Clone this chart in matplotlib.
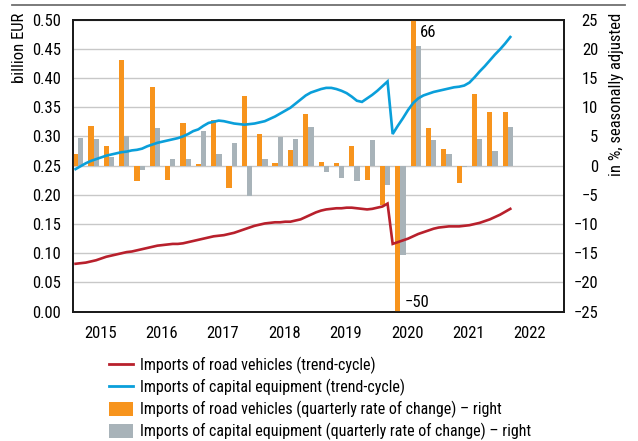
import matplotlib
matplotlib.use("Agg")
import matplotlib.pyplot as plt
from matplotlib import font_manager
from matplotlib.lines import Line2D
from matplotlib.patches import Patch
import numpy as np

# ---- font selection: prefer a narrow sans (reference uses a condensed Helvetica) ----
def _is_narrow(f):
    st = f.stretch
    if isinstance(st, str):
        narrow = st in ("condensed", "semi-condensed", "extra-condensed", "ultra-condensed")
    else:
        narrow = st < 500
    return narrow or "Narrow" in f.name or "Condensed" in f.name

def _is_regular(f):
    w = f.weight
    w = {"normal": 400, "regular": 400, "book": 400}.get(w, w) if isinstance(w, str) else w
    return w == 400 and f.style == "normal"

cands = [f for f in font_manager.fontManager.ttflist if _is_narrow(f) and _is_regular(f)]
pref = ["Liberation Sans Narrow", "Arial Narrow", "Roboto Condensed", "Open Sans Condensed",
        "Noto Sans", "Noto Sans Condensed", "DejaVu Sans", "Open Sans", "Roboto"]
chosen = None
for p in pref:
    for f in cands:
        if f.name == p:
            chosen = f
            break
    if chosen:
        break
if chosen is None and cands:
    chosen = cands[0]

if chosen is not None:
    FP = dict(fname=chosen.fname)
    FS, LFS = 12, 11.5
else:
    FP = dict(family="Liberation Sans")
    FS, LFS = 10.5, 10

def fp(size):
    return font_manager.FontProperties(size=size, **FP)

# ---------------- data ----------------
years = [2015, 2016, 2017, 2018, 2019, 2020, 2021, 2022]

# monthly trend-cycle (billion EUR), Jan 2015 .. Feb 2022
road_trend = [
    0.082, 0.083, 0.084, 0.086, 0.088, 0.091, 0.094, 0.096, 0.098, 0.100, 0.102, 0.103,
    0.105, 0.107, 0.109, 0.111, 0.113, 0.114, 0.115, 0.116, 0.116, 0.117, 0.119, 0.121,
    0.123, 0.125, 0.127, 0.129, 0.130, 0.131, 0.133, 0.135, 0.138, 0.141, 0.144, 0.147,
    0.149, 0.151, 0.152, 0.153, 0.153, 0.154, 0.154, 0.156, 0.158, 0.162, 0.166, 0.170,
    0.173, 0.175, 0.176, 0.177, 0.177, 0.178, 0.178, 0.177, 0.176, 0.175, 0.176, 0.178,
    0.180, 0.185, 0.116, 0.119, 0.122, 0.125, 0.129, 0.133, 0.136, 0.139, 0.142, 0.144,
    0.145, 0.146, 0.146, 0.146, 0.147, 0.148, 0.150, 0.152, 0.155, 0.158, 0.162, 0.166,
    0.171, 0.176,
]
capital_trend = [
    0.244, 0.249, 0.254, 0.258, 0.261, 0.264, 0.267, 0.269, 0.271, 0.273, 0.274, 0.276,
    0.277, 0.279, 0.283, 0.286, 0.289, 0.291, 0.293, 0.295, 0.297, 0.300, 0.304, 0.309,
    0.312, 0.318, 0.323, 0.325, 0.327, 0.326, 0.324, 0.322, 0.321, 0.320, 0.321, 0.322,
    0.324, 0.326, 0.330, 0.334, 0.339, 0.344, 0.349, 0.356, 0.363, 0.370, 0.375, 0.378,
    0.381, 0.383, 0.383, 0.381, 0.378, 0.374, 0.368, 0.361, 0.359, 0.365, 0.371, 0.378,
    0.386, 0.394, 0.304, 0.318, 0.331, 0.345, 0.357, 0.365, 0.370, 0.373, 0.376, 0.378,
    0.380, 0.382, 0.384, 0.385, 0.387, 0.392, 0.401, 0.411, 0.420, 0.430, 0.440, 0.449,
    0.459, 0.470,
]

# quarterly rates of change (%), 2015Q1 .. 2022Q1
road_qoq = [2.0, 6.8, 3.4, 18.0, -2.6, 13.4, -2.5, 7.3, 0.2, 7.8, -3.8, 11.9, 5.4, 0.4,
            2.6, 8.9, 0.6, 0.5, 3.4, -2.4, -6.8, -50.0, 66.0, 6.4, 2.8, -2.9, 12.2, 9.2, 9.2]
capital_qoq = [4.8, 4.5, 1.5, 5.1, -0.8, 6.5, 1.1, 1.2, 6.0, 2.0, 3.9, -5.2, 1.1, 4.9,
               4.6, 6.6, -1.1, -2.1, -2.6, 4.4, -3.4, -15.3, 20.5, 4.3, 1.9, -0.3, 4.6, 2.5, 6.6]

left_ticks = [0.00, 0.05, 0.10, 0.15, 0.20, 0.25, 0.30, 0.35, 0.40, 0.45, 0.50]
right_ticks = [-25, -20, -15, -10, -5, 0, 5, 10, 15, 20, 25]

labels = [
    "Imports of road vehicles (trend-cycle)",
    "Imports of capital equipment (trend-cycle)",
    "Imports of road vehicles (quarterly rate of change) \u2013 right",
    "Imports of capital equipment (quarterly rate of change) \u2013 right",
]

RED = "#B8202C"
BLUE = "#0A9FDA"
ORANGE = "#F7941D"
GREY = "#A8B3B9"

# ---------------- figure ----------------
W, H = 638, 441
fig = plt.figure(figsize=(W / 100, H / 100), dpi=100)
L, R, T, B = 73, 564, 19.5, 311.7
ax = fig.add_axes([L / W, 1 - B / H, (R - L) / W, (B - T) / H])
ax2 = ax.twinx()
ax.set_zorder(2)
ax2.set_zorder(1)
ax.patch.set_visible(False)

t_month = 2015 + (np.arange(len(road_trend)) + 0.5) / 12
t_q = 2015 + np.arange(len(road_qoq)) * 0.25
bw = 0.085

ax2.bar(t_q, road_qoq, width=bw, align="edge", color=ORANGE, zorder=3)
ax2.bar(t_q + bw, capital_qoq, width=bw, align="edge", color=GREY, zorder=3)

ax.plot(t_month, road_trend, color=RED, lw=1.9, solid_joinstyle="miter")
ax.plot(t_month, capital_trend, color=BLUE, lw=1.9, solid_joinstyle="miter")

ax.set_xlim(2015, 2023)
ax.set_ylim(0, 0.5)
ax2.set_ylim(-25, 25)

ax2.set_axisbelow(True)
ax2.set_yticks(right_ticks)
ax2.set_yticklabels([str(v).replace("-", "\u2212") for v in right_ticks],
                    fontproperties=fp(FS), ha="right")
ax2.set_xticks(list(range(2015, 2024)))
ax2.grid(True, color="#C8C8C8", lw=1.0)

ax.set_yticks(left_ticks)
ax.set_yticklabels([f"{v:.2f}" for v in left_ticks], fontproperties=fp(FS))
ax.set_xticks(list(range(2015, 2024)))
ax.set_xticklabels([])
ax.set_xticks([y + 0.445 for y in years], minor=True)
ax.set_xticklabels([str(y) for y in years], minor=True, fontproperties=fp(FS))

ax.tick_params(axis="y", length=0, pad=8.5)
ax.tick_params(axis="x", which="both", length=0, pad=10)
ax2.tick_params(axis="y", length=0, pad=24.5)
ax2.tick_params(axis="x", length=0, labelbottom=False)

for a in (ax, ax2):
    for s in a.spines.values():
        s.set_color("#1a1a1a")
        s.set_linewidth(1.3)

ax2.text(2020.65, 22.7, "66", fontproperties=fp(FS), ha="left", va="center", zorder=5)
ax2.text(2020.41, -23.5, "\u221250", fontproperties=fp(FS), ha="left", va="center", zorder=5)

fig.text(19 / W, 1 - 13 / H, "billion EUR", rotation=90, ha="center", va="top",
         fontproperties=fp(FS))
fig.text(617 / W, 1 - 13 / H, "in %, seasonally adjusted", rotation=90, ha="center",
         va="top", fontproperties=fp(FS))

fig.add_artist(Line2D([12 / W, 625 / W], [1 - 5 / H] * 2, color="#707070", lw=1.3))

handles = [
    Line2D([], [], color=RED, lw=2),
    Line2D([], [], color=BLUE, lw=2),
    Patch(facecolor=ORANGE),
    Patch(facecolor=GREY),
]
fig.legend(handles, labels, loc="upper left", bbox_to_anchor=(109 / W, 1 - 357 / H),
           frameon=False, prop=fp(LFS), handlelength=1.5, handleheight=1.0,
           handletextpad=0.45, labelspacing=0.3, borderpad=0, borderaxespad=0)

fig.savefig("out.png", dpi=100)
